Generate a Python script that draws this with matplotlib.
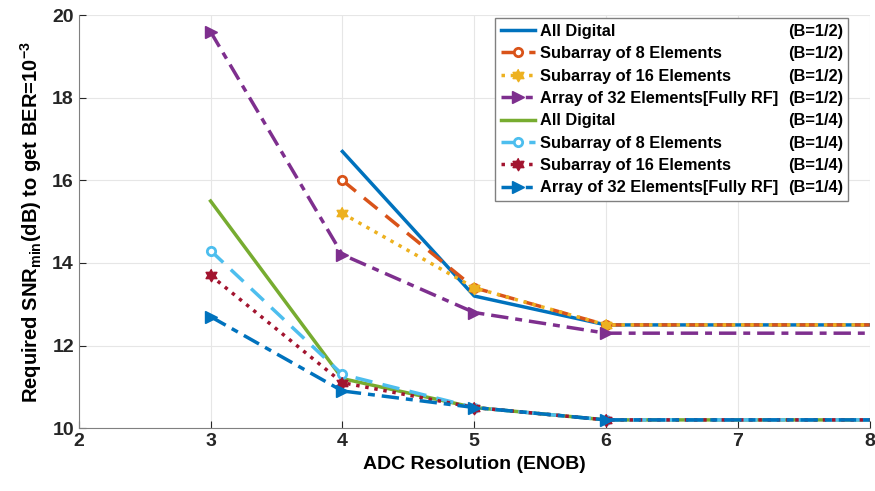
import matplotlib
matplotlib.use("Agg")
import matplotlib.pyplot as plt
import numpy as np

plt.rcParams['font.family'] = ['Liberation Sans', 'DejaVu Sans']
plt.rcParams['font.weight'] = 'bold'
plt.rcParams['mathtext.fontset'] = 'custom'
plt.rcParams['mathtext.rm'] = 'Liberation Sans:bold'
plt.rcParams['mathtext.bf'] = 'Liberation Sans:bold'
plt.rcParams['mathtext.default'] = 'bf'

# -----------------------------
# Data
# -----------------------------
enob_half = [4, 5, 6, 7, 8]
enob_full = [3, 4, 5, 6, 7, 8]

digital_half = [16.7, 13.2, 12.5, 12.5, 12.5]
sub8_half = [16.0, 13.4, 12.5, 12.5, 12.5]
sub16_half = [15.2, 13.4, 12.5, 12.5, 12.5]
arr32_half = [19.6, 14.2, 12.8, 12.3, 12.3, 12.3]

digital_quarter = [15.5, 11.2, 10.5, 10.2, 10.2, 10.2]
sub8_quarter = [14.3, 11.3, 10.5, 10.2, 10.2, 10.2]
sub16_quarter = [13.7, 11.1, 10.5, 10.2, 10.2, 10.2]
arr32_quarter = [12.7, 10.9, 10.5, 10.2, 10.2, 10.2]

names = ["All Digital", "Subarray of 8 Elements", "Subarray of 16 Elements",
         "Array of 32 Elements[Fully RF]"]
rates = ["(B=1/2)", "(B=1/4)"]

# six pointed star marker
ang = np.deg2rad(np.arange(0, 360, 30) + 90)
rad = np.where(np.arange(12) % 2 == 0, 1.0, 0.58)
hexagram = list(zip(rad * np.cos(ang), rad * np.sin(ang)))

fig = plt.figure(figsize=(8.75, 4.91), dpi=100)
ax = fig.add_axes([0.090, 0.128, 0.904, 0.841])

series = [
    (enob_half, digital_half, '#0072BD', '-', None, 7),
    (enob_half, sub8_half, '#D95319', (0, (5, 3)), 'o', 6),
    (enob_half, sub16_half, '#EDB120', ':', hexagram, 9),
    (enob_full, arr32_half, '#7E2F8E', (0, (5, 2, 2, 2)), '>', 8),
    (enob_full, digital_quarter, '#77AC30', '-', None, 7),
    (enob_full, sub8_quarter, '#4DBEEE', (0, (5, 3)), 'o', 6),
    (enob_full, sub16_quarter, '#A2142F', ':', hexagram, 9),
    (enob_full, arr32_quarter, '#0072BD', (0, (5, 2, 2, 2)), '>', 8),
]

handles = []
for i, (x, y, c, ls, mk, ms) in enumerate(series):
    n_mark = sum(1 for v in x if v <= 6)
    kw = {}
    if mk == 'o':
        kw = dict(markerfacecolor='white', markeredgewidth=2)
    elif mk is not None:
        kw = dict(markerfacecolor=c, markeredgewidth=1)
    h, = ax.plot(x, y, color=c, linestyle=ls, linewidth=2.5, marker=mk,
                 markersize=ms, markevery=list(range(n_mark)), **kw)
    handles.append(h)

ax.set_xlim(2, 8)
ax.set_ylim(10, 20)
ax.set_xticks(range(2, 9))
ax.set_yticks(range(10, 21, 2))
ax.tick_params(direction='in', labelsize=14, colors='#262626', length=5)
for lab in ax.get_xticklabels() + ax.get_yticklabels():
    lab.set_fontweight('bold')
ax.grid(True, color='#e6e6e6', linewidth=0.8)
for s in ['top', 'right']:
    ax.spines[s].set_visible(False)
for s in ['left', 'bottom']:
    ax.spines[s].set_color('#808080')

ax.set_xlabel('ADC Resolution (ENOB)', fontsize=14, fontweight='bold')
ax.set_ylabel('Required SNR$_{min}$(dB) to get BER=10$^{-3}$',
              fontsize=14.5, fontweight='bold', labelpad=6)

labels = names + names
leg = ax.legend(handles, labels, loc='upper left', mode='expand',
                bbox_to_anchor=(0.526, 0.552, 0.447, 0.441),
                fontsize=11.8, handlelength=2.1, handletextpad=0.3,
                labelspacing=0.45, borderaxespad=0, framealpha=1,
                borderpad=0.35, fancybox=False, edgecolor='#808080')
for t in leg.get_texts():
    t.set_fontweight('bold')

fig.canvas.draw()
frame = leg.get_frame().get_window_extent()
inv = fig.transFigure.inverted()
for i, t in enumerate(leg.get_texts()):
    bb = t.get_window_extent()
    xr, yc = inv.transform((frame.x1 - 5, (bb.y0 + bb.y1) / 2))
    fig.text(xr, yc, rates[i // 4], ha='right', va='center',
             fontsize=11.8, fontweight='bold')

fig.savefig('out.png', dpi=100)
